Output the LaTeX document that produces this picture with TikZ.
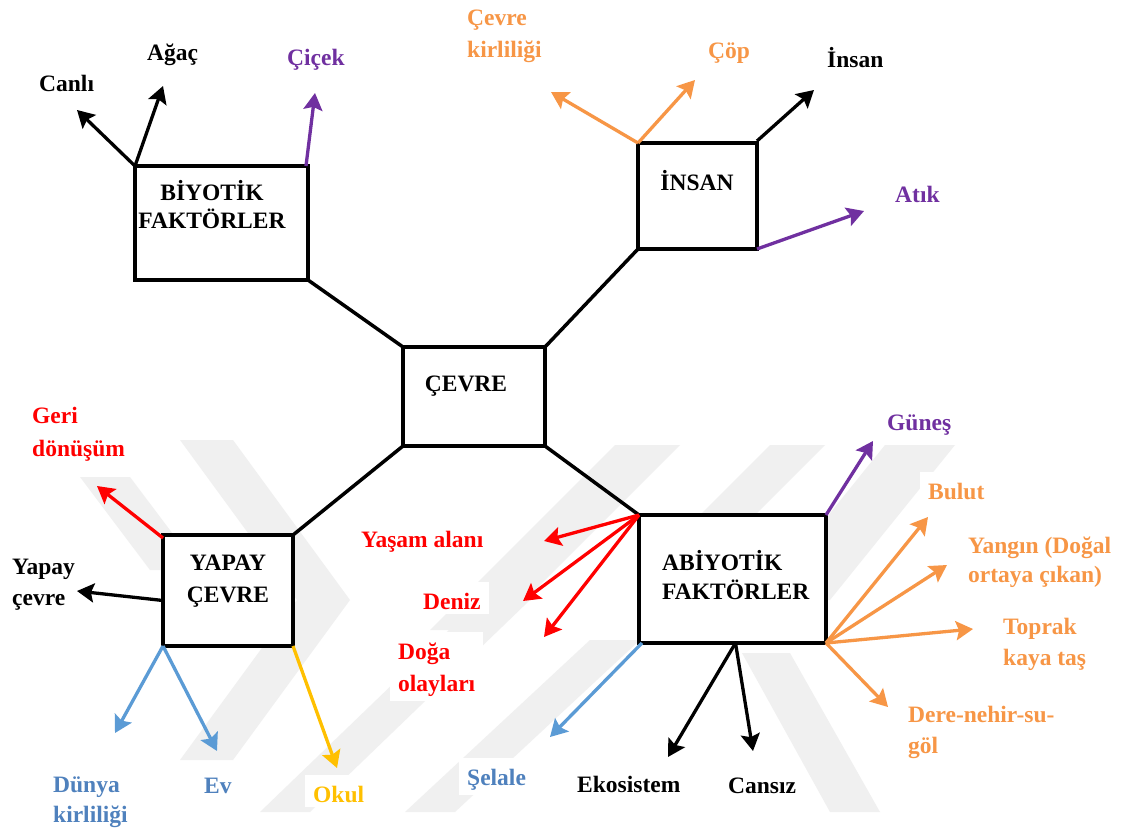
\documentclass[tikz,border=0pt]{standalone}
\usepackage{fontspec}
\setmainfont{Liberation Serif}
\usetikzlibrary{arrows.meta}
\definecolor{orng}{HTML}{F79646}
\definecolor{purp}{HTML}{7030A0}
\definecolor{lblue}{HTML}{5B9BD5}
\definecolor{tblue}{HTML}{4F81BD}
\definecolor{gold}{HTML}{FFC000}
\definecolor{wmgray}{HTML}{F0F0F0}
\newcommand\capstrut{\rule{0pt}{22pt}}
\newcommand\labfont{\fontsize{23.5}{31}\selectfont\bfseries}
\tikzset{
  box/.style={draw, line width=4pt, fill=white, inner sep=0pt, outer sep=0pt},
  boxtext/.style={font=\fontsize{23.5}{28}\selectfont\bfseries, align=center, inner sep=0pt, anchor=north},
  lab/.style={font=\labfont, align=left, anchor=north west, inner xsep=8pt, inner ysep=5pt, fill=white},
  link/.style={line width=3.5pt},
  arr/.style={line width=3.3pt, -{Stealth[length=17pt,width=19pt,inset=3pt]}},
  wm/.style={fill=wmgray, draw=none}
}
\begin{document}
\begin{tikzpicture}[x=1pt,y=-1pt]
\useasboundingbox (0,0) rectangle (1122,830);
\fill[white] (0,0) rectangle (1122,830);

% faint chevron watermark
\fill[wm] (180,440) -- (233,440) -- (350,600) -- (233,760) -- (180,760) -- (297,600) -- cycle;
\fill[wm] (80,477) -- (130,477) -- (200,570) -- (150,570) -- cycle;
\fill[wm] (615,445) -- (680,445) -- (495,630) -- (430,630) -- cycle;
\fill[wm] (770,445) -- (825,445) -- (695,575) -- (640,575) -- cycle;
\fill[wm] (885,445) -- (955,445) -- (830,600) -- (760,600) -- cycle;
\fill[wm] (260,812) -- (310,812) -- (530,600) -- (480,600) -- cycle;
\fill[wm] (405,812) -- (455,812) -- (640,640) -- (590,640) -- cycle;
\fill[wm] (742,653) -- (790,653) -- (880,812) -- (830,812) -- cycle;

% outer labels
\node[lab] (canli) at (31,64) {\capstrut Canlı};
\node[lab] (agac) at (139,33) {\capstrut Ağaç};
\node[lab, text=purp] (cicek) at (279,38) {\capstrut Çiçek};
\node[lab, text=orng, font=\fontsize{23.5}{32}\selectfont\bfseries] (kirlilik) at (459,-2) {\capstrut Çevre\\kirliliği};
\node[lab, text=orng] (cop) at (700,31) {\capstrut Çöp};
\node[lab] (insanl) at (819,40) {\capstrut İnsan};
\node[lab, text=purp] (atik) at (887,175) {\capstrut Atık};
\node[lab, text=red, font=\fontsize{23.5}{33}\selectfont\bfseries] (geri) at (24,396) {\capstrut Geri\\dönüşüm};
\node[lab] (yapayc) at (4,547) {\capstrut Yapay\\çevre};
\node[lab, text=tblue, font=\fontsize{23.5}{30}\selectfont\bfseries] (dunya) at (45,765) {\capstrut Dünya\\kirliliği};
\node[lab, text=tblue] (ev) at (196,766) {\capstrut Ev};
\node[lab, text=gold] (okul) at (305,775) {\capstrut Okul};
\node[lab, text=red] (yasam) at (353,520) {\capstrut Yaşam alanı};
\node[lab, text=red] (deniz) at (415,582) {\capstrut Deniz};
\node[lab, text=red, font=\fontsize{23.5}{32}\selectfont\bfseries] (doga) at (390,632) {\capstrut Doğa\\olayları};
\node[lab, text=tblue] (selale) at (459,758) {\capstrut Şelale};
\node[lab] (eko) at (569,765) {\capstrut Ekosistem};
\node[lab] (cansiz) at (720,766) {\capstrut Cansız};
\node[lab, text=purp] (gunes) at (879,403) {\capstrut Güneş};
\node[lab, text=orng] (bulut) at (920,472) {\capstrut Bulut};
\node[lab, text=orng, font=\fontsize{23.5}{29}\selectfont\bfseries] (yangin) at (960,526) {\capstrut Yangın (Doğal\\ortaya çıkan)};
\node[lab, text=orng] (toprak) at (995,607) {\capstrut Toprak\\kaya taş};
\node[lab, text=orng] (dere) at (900,695) {\capstrut Dere-nehir-su-\\göl};

% boxes
\node[box, minimum width=173pt, minimum height=114pt] (bio) at (221.5,223) {};
\node[box, minimum width=119pt, minimum height=106pt] (insan) at (697.5,196) {};
\node[box, minimum width=142pt, minimum height=99pt] (cevre) at (474,396.5) {};
\node[box, minimum width=130pt, minimum height=111pt] (yapay) at (228,590.5) {};
\node[box, minimum width=187pt, minimum height=128pt] (abio) at (732.5,579) {};

\node[boxtext] (bio-t) at (212,178) {\capstrut BİYOTİK\\FAKTÖRLER};
\node[boxtext] (insan-t) at (697,168) {\capstrut İNSAN};
\node[boxtext] (cevre-t) at (466,369) {\capstrut ÇEVRE};
\node[boxtext, font=\fontsize{23.5}{32}\selectfont\bfseries] (yapay-t) at (228,548) {\capstrut YAPAY\\ÇEVRE};
\node[boxtext, anchor=north west, align=left, font=\fontsize{23.5}{29}\selectfont\bfseries] (abio-t) at (662,548) {\capstrut ABİYOTİK\\FAKTÖRLER};

% links to the centre
\draw[link] (bio.south east) -- (cevre.north west);
\draw[link] (insan.south west) -- (cevre.north east);
\draw[link] (yapay.north east) -- (cevre.south west);
\draw[link] (abio.north west) -- (cevre.south east);

% arrow ends
\coordinate (canliT) at (77,110);
\coordinate (agacT) at (163,86);
\coordinate (cicekT) at (315,93);
\coordinate (kirT) at (551,92);
\coordinate (copT) at (695,80);
\coordinate (insanT) at (814,90);
\coordinate (atikT) at (864,211);
\coordinate (geriT) at (97,486);
\coordinate (yapayT) at (77,591);
\coordinate (dunyaT) at (115,733);
\coordinate (evT) at (217,751);
\coordinate (okulT) at (337,768);
\coordinate (yasamT) at (544,541);
\coordinate (denizT) at (523,601);
\coordinate (dogaT) at (544,637);
\coordinate (selaleT) at (550,737);
\coordinate (ekoT) at (668,757);
\coordinate (cansizT) at (753,751);
\coordinate (gunesT) at (873,441);
\coordinate (bulutT) at (928,517);
\coordinate (yanginT) at (947,565);
\coordinate (toprakT) at (973,629);
\coordinate (dereT) at (888,707);

% arrows
\draw[arr] (bio.north west) -- (canliT);
\draw[arr] (bio.north west) -- (agacT);
\draw[arr, purp] ([xshift=-2pt]bio.north east) -- (cicekT);
\draw[arr, orng] (insan.north west) -- (kirT);
\draw[arr, orng] (insan.north west) -- (copT);
\draw[arr] ([yshift=2pt]insan.north east) -- (insanT);
\draw[arr, purp] (insan.south east) -- (atikT);
\draw[arr, red] ([yshift=-3pt]yapay.north west) -- (geriT);
\draw[arr] ([yshift=-10pt]yapay.west) -- (yapayT);
\draw[arr, lblue] (yapay.south west) -- (dunyaT);
\draw[arr, lblue] (yapay.south west) -- (evT);
\draw[arr, gold] (yapay.south east) -- (okulT);
\draw[arr, red] (abio.north west) -- (yasamT);
\draw[arr, red] (abio.north west) -- (denizT);
\draw[arr, red] (abio.north west) -- (dogaT);
\draw[arr, lblue] ([xshift=3pt]abio.south west) -- (selaleT);
\draw[arr] ([xshift=3pt]abio.south) -- (ekoT);
\draw[arr] ([xshift=3pt]abio.south) -- (cansizT);
\draw[arr, purp] (abio.north east) -- (gunesT);
\draw[arr, orng] (abio.south east) -- (bulutT);
\draw[arr, orng] (abio.south east) -- (yanginT);
\draw[arr, orng] (abio.south east) -- (toprakT);
\draw[arr, orng] (abio.south east) -- (dereT);
\end{tikzpicture}
\end{document}
